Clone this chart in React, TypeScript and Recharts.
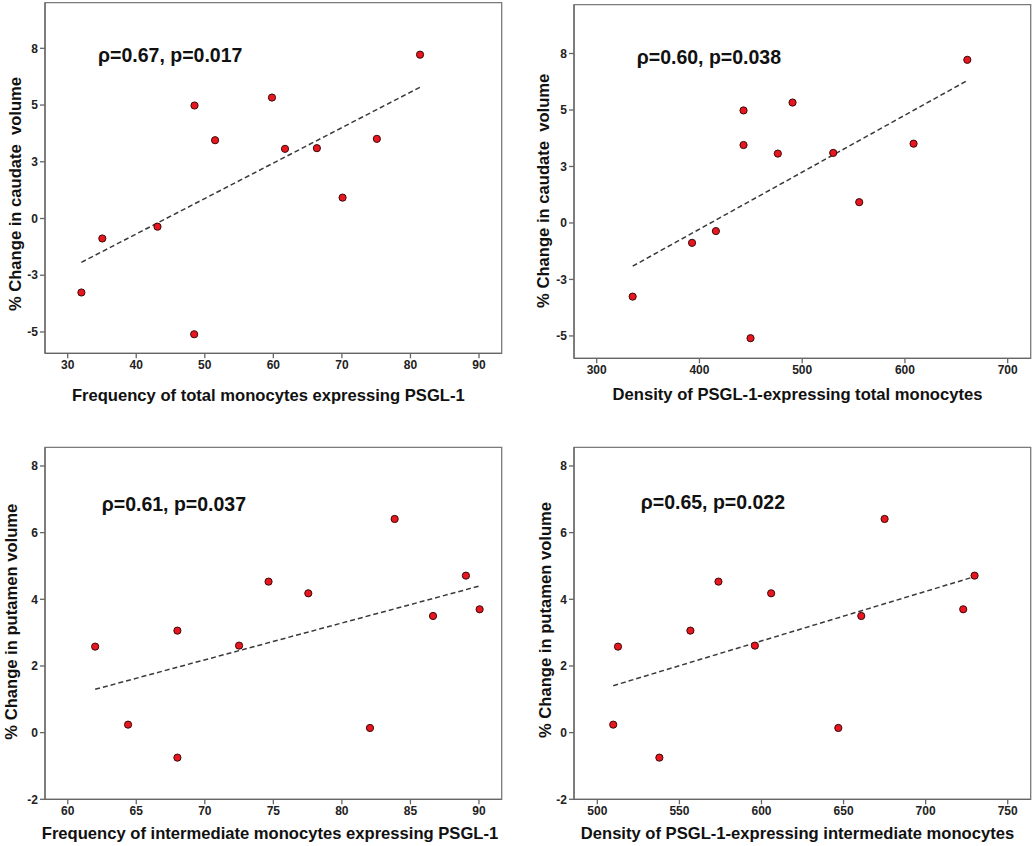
import React from "react";
import {
  ScatterChart,
  Scatter,
  XAxis,
  YAxis,
  ReferenceArea,
  ReferenceLine,
} from "recharts";

// % change in volume (same 12 subjects in each pair of panels)
const caudateChange = [-3.26, -0.88, -0.36, 4.98, -5.1, 3.45, 5.33, 3.07, 3.1, 0.92, 3.51, 7.22];
const totalFreq = [32.0, 35.05, 43.1, 48.5, 48.45, 51.5, 59.8, 61.7, 66.35, 70.1, 75.1, 81.4];
const totalDensity = [335.0, 392.8, 416.0, 442.9, 449.7, 442.9, 490.6, 476.3, 530.2, 555.5, 608.4, 660.7];

const putamenChange = [2.58, 0.24, 3.06, -0.75, 2.61, 4.53, 4.18, 0.14, 6.41, 3.5, 4.71, 3.7];
const intermFreq = [62.0, 64.4, 68.0, 68.0, 72.5, 74.65, 77.55, 82.05, 83.85, 86.65, 89.05, 90.05];
const intermDensity = [512.6, 509.7, 556.7, 537.8, 596.0, 573.8, 605.9, 646.8, 675.0, 660.8, 729.8, 722.9];

// SPSS-style axes: ticks at half steps, labels rounded
const caudateTicks = [-5, -2.5, 0, 2.5, 5, 7.5];
const caudateTickLabels = ["-5", "-3", "0", "3", "5", "8"];
const putamenTicks = [-2, 0, 2, 4, 6, 8];
const freqTotalTicks = [30, 40, 50, 60, 70, 80, 90];
const densityTotalTicks = [300, 400, 500, 600, 700];
const freqIntermTicks = [60, 65, 70, 75, 80, 85, 90];
const densityIntermTicks = [500, 550, 600, 650, 700, 750];

const annotations = [
  "ρ=0.67, p=0.017",
  "ρ=0.60, p=0.038",
  "ρ=0.61, p=0.037",
  "ρ=0.65, p=0.022",
];

const TITLE_FONT = '"Liberation Sans", Arial, sans-serif';
const TICK_FONT = '"Liberation Sans Narrow", "Arial Narrow", "Liberation Sans", Arial, sans-serif';

// least-squares fit line across the range of x
const fitLine = (xs: number[], ys: number[]) => {
  const n = xs.length;
  const mx = xs.reduce((a, b) => a + b, 0) / n;
  const my = ys.reduce((a, b) => a + b, 0) / n;
  let sxy = 0;
  let sxx = 0;
  xs.forEach((x, i) => {
    sxy += (x - mx) * (ys[i] - my);
    sxx += (x - mx) * (x - mx);
  });
  const slope = sxy / sxx;
  const x0 = Math.min(...xs);
  const x1 = Math.max(...xs);
  return [
    { x: x0, y: my + slope * (x0 - mx) },
    { x: x1, y: my + slope * (x1 - mx) },
  ];
};

const Dot = (props: any) => (
  <circle cx={props.cx} cy={props.cy} r={3.6} fill="#e8161f" stroke="#3a0a0a" strokeWidth={1} />
);

const Annot = (props: any) => {
  const vb = props.viewBox || { x: 0, y: 0 };
  return (
    <text
      x={vb.x + props.dx0}
      y={vb.y + props.dy0}
      dominantBaseline="central"
      fontFamily={TITLE_FONT}
      fontWeight="bold"
      fontSize={19.5}
      fill="#111"
    >
      {props.text}
    </text>
  );
};

const AxisTitle = (props: any) => (
  <text
    x={props.tx}
    y={props.ty}
    transform={props.rot ? `rotate(-90 ${props.tx} ${props.ty})` : undefined}
    textAnchor="middle"
    dominantBaseline="central"
    fontFamily={TITLE_FONT}
    fontWeight="bold"
    fontSize={16.6}
    fill="#111"
    style={{ whiteSpace: "pre" }}
  >
    {props.text}
  </text>
);

interface PanelProps {
  left: number;
  top: number;
  width: number;
  height: number;
  margin: { top: number; right: number; bottom: number; left: number };
  xs: number[];
  ys: number[];
  xDomain: [number, number];
  yDomain: [number, number];
  xTicks: number[];
  yTicks: number[];
  yTickLabels?: string[];
  xTitle: string;
  yTitle: string;
  xTitlePos: [number, number];
  yTitlePos: [number, number];
  annot: string;
  annotOffset: [number, number];
}

const Panel: React.FC<PanelProps> = (p) => {
  const data = p.xs.map((x, i) => ({ x, y: p.ys[i] }));
  const fit = fitLine(p.xs, p.ys);
  const tickStyle = { fontFamily: TICK_FONT, fontWeight: "bold", fontSize: 12, fill: "#222" };
  return (
    <div style={{ position: "absolute", left: p.left, top: p.top }}>
      <ScatterChart width={p.width} height={p.height} margin={p.margin}>
        <XAxis
          type="number"
          dataKey="x"
          domain={p.xDomain}
          ticks={p.xTicks}
          allowDataOverflow
          height={30}
          tickSize={5}
          tickMargin={2}
          axisLine={{ stroke: "#666", strokeWidth: 1.3 }}
          tickLine={{ stroke: "#666", strokeWidth: 1.3 }}
          tick={tickStyle}
          label={<AxisTitle tx={p.xTitlePos[0]} ty={p.xTitlePos[1]} text={p.xTitle} />}
        />
        <YAxis
          type="number"
          dataKey="y"
          domain={p.yDomain}
          ticks={p.yTicks}
          allowDataOverflow
          width={40}
          tickSize={5}
          tickMargin={2}
          axisLine={{ stroke: "#666", strokeWidth: 1.3 }}
          tickLine={{ stroke: "#666", strokeWidth: 1.3 }}
          tick={tickStyle}
          tickFormatter={(v: number) =>
            p.yTickLabels ? p.yTickLabels[p.yTicks.indexOf(v)] ?? String(v) : String(v)
          }
          label={<AxisTitle tx={p.yTitlePos[0]} ty={p.yTitlePos[1]} text={p.yTitle} rot />}
        />
        <ReferenceArea
          x1={p.xDomain[0]}
          x2={p.xDomain[1]}
          y1={p.yDomain[0]}
          y2={p.yDomain[1]}
          fill="none"
          stroke="#7a7a7a"
          strokeWidth={1.3}
          ifOverflow="visible"
          label={<Annot text={p.annot} dx0={p.annotOffset[0]} dy0={p.annotOffset[1]} />}
        />
        <ReferenceLine
          segment={fit}
          stroke="#3a3a3a"
          strokeWidth={1.5}
          strokeDasharray="5 3"
          ifOverflow="visible"
        />
        <Scatter data={data} shape={<Dot />} isAnimationActive={false} />
      </ScatterChart>
    </div>
  );
};

export default function App() {
  return (
    <div
      style={{
        position: "absolute",
        left: 0,
        top: 0,
        width: 1035,
        height: 846,
        background: "#fff",
        overflow: "hidden",
      }}
    >
      <Panel
        left={0}
        top={0}
        width={520}
        height={415}
        margin={{ top: 2.7, right: 18.3, bottom: 31.7, left: 5 }}
        xs={totalFreq}
        ys={caudateChange}
        xDomain={[26.69, 93.31]}
        yDomain={[-5.94, 9.51]}
        xTicks={freqTotalTicks}
        yTicks={caudateTicks}
        yTickLabels={caudateTickLabels}
        xTitle="Frequency of total monocytes expressing PSGL-1"
        yTitle="% Change in caudate  volume"
        xTitlePos={[268.3, 395]}
        yTitlePos={[15, 194]}
        annot={annotations[0]}
        annotOffset={[53, 52.3]}
      />
      <Panel
        left={520}
        top={0}
        width={515}
        height={415}
        margin={{ top: 4.7, right: 4.3, bottom: 26.7, left: 14 }}
        xs={totalDensity}
        ys={caudateChange}
        xDomain={[277.9, 722.4]}
        yDomain={[-5.99, 9.66]}
        xTicks={densityTotalTicks}
        yTicks={caudateTicks}
        yTickLabels={caudateTickLabels}
        xTitle="Density of PSGL-1-expressing total monocytes"
        yTitle="% Change in caudate  volume"
        xTitlePos={[277.5, 394.3]}
        yTitlePos={[23.3, 190.8]}
        annot={annotations[1]}
        annotOffset={[62.7, 52]}
      />
      <Panel
        left={0}
        top={420}
        width={520}
        height={426}
        margin={{ top: 27.3, right: 18.3, bottom: 16.7, left: 5 }}
        xs={intermFreq}
        ys={putamenChange}
        xDomain={[58.34, 91.66]}
        yDomain={[-2, 8.56]}
        xTicks={freqIntermTicks}
        yTicks={putamenTicks}
        xTitle="Frequency of intermediate monocytes expressing PSGL-1"
        yTitle="% Change in putamen volume"
        xTitlePos={[270, 413.3]}
        yTitlePos={[12, 201.7]}
        annot={annotations[2]}
        annotOffset={[56.7, 56.7]}
      />
      <Panel
        left={520}
        top={420}
        width={515}
        height={426}
        margin={{ top: 27.3, right: 4.3, bottom: 16.7, left: 14 }}
        xs={intermDensity}
        ys={putamenChange}
        xDomain={[485.8, 764.0]}
        yDomain={[-2, 8.56]}
        xTicks={densityIntermTicks}
        yTicks={putamenTicks}
        xTitle="Density of PSGL-1-expressing intermediate monocytes"
        yTitle="% Change in putamen volume"
        xTitlePos={[277.5, 413.3]}
        yTitlePos={[25, 200]}
        annot={annotations[3]}
        annotOffset={[66.7, 54.4]}
      />
    </div>
  );
}
